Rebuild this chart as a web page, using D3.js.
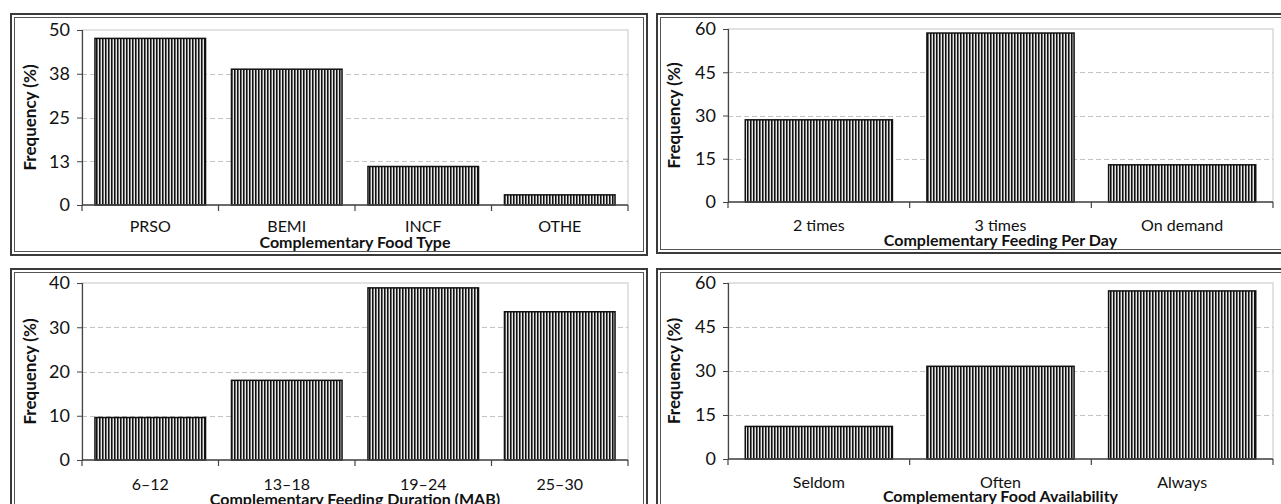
<!DOCTYPE html>
<html>
<head>
<meta charset="utf-8">
<script src="https://cdn.jsdelivr.net/npm/d3@7"></script>
<style>
html,body{margin:0;padding:0;background:#fff;}
svg{display:block;}
text{font-family:Lato,"Open Sans",sans-serif;fill:#111;}
</style>
</head>
<body>
<svg id="chart" width="1281" height="504"></svg>
<script>
// ---- data ----
const foodTypeCats = ["PRSO", "BEMI", "INCF", "OTHE"];
const foodTypeVals = [47.6, 38.8, 11.0, 2.9];
const foodTypeTicks = [0, 12.5, 25, 37.5, 50];
const foodTypeTickLabels = ["0", "13", "25", "38", "50"];
const foodTypeTitle = "Complementary Food Type";

const perDayCats = ["2 times", "3 times", "On demand"];
const perDayVals = [28.5, 58.6, 12.9];
const perDayTicks = [0, 15, 30, 45, 60];
const perDayTickLabels = ["0", "15", "30", "45", "60"];
const perDayTitle = "Complementary Feeding Per Day";

const durationCats = ["6–12", "13–18", "19–24", "25–30"];
const durationVals = [9.6, 18.0, 38.9, 33.5];
const durationTicks = [0, 10, 20, 30, 40];
const durationTickLabels = ["0", "10", "20", "30", "40"];
const durationTitle = "Complementary Feeding Duration (MAB)";

const availCats = ["Seldom", "Often", "Always"];
const availVals = [11.1, 31.6, 57.3];
const availTicks = [0, 15, 30, 45, 60];
const availTickLabels = ["0", "15", "30", "45", "60"];
const availTitle = "Complementary Food Availability";

const yAxisTitle = "Frequency (%)";

// ---- layout ----
const svg = d3.select("#chart");
const defs = svg.append("defs");
const pat = defs.append("pattern").attr("id", "stripes")
  .attr("patternUnits", "userSpaceOnUse").attr("width", 3).attr("height", 10);
pat.append("rect").attr("x", 0).attr("y", 0).attr("width", 3).attr("height", 10).attr("fill", "#e6e6e6");
pat.append("rect").attr("x", 0).attr("y", 0).attr("width", 1).attr("height", 10).attr("fill", "#111");
pat.append("rect").attr("x", 1).attr("y", 0).attr("width", 1).attr("height", 10).attr("fill", "#6e6e6e");

const panels = [
  {cats: foodTypeCats, vals: foodTypeVals, ticks: foodTypeTicks, tickLabels: foodTypeTickLabels, title: foodTypeTitle,
   frame: [10, 13, 648, 256], plot: {l: 82, r: 628, t: 30, b: 205}, labY: 232, titY: 248, yTitX: 30},
  {cats: perDayCats, vals: perDayVals, ticks: perDayTicks, tickLabels: perDayTickLabels, title: perDayTitle,
   frame: [656, 13, 1292, 254], plot: {l: 728, r: 1273, t: 29, b: 202}, labY: 231, titY: 246, yTitX: 674},
  {cats: durationCats, vals: durationVals, ticks: durationTicks, tickLabels: durationTickLabels, title: durationTitle,
   frame: [10, 268, 648, 515], plot: {l: 82, r: 628, t: 283, b: 460}, labY: 490, titY: 505, yTitX: 30},
  {cats: availCats, vals: availVals, ticks: availTicks, tickLabels: availTickLabels, title: availTitle,
   frame: [656, 268, 1292, 515], plot: {l: 728, r: 1273, t: 283, b: 459}, labY: 488, titY: 502, yTitX: 674}
];

panels.forEach(p => {
  const g = svg.append("g");
  const [fx0, fy0, fx1, fy1] = p.frame;
  // double frame
  g.append("rect").attr("x", fx0 + 1).attr("y", fy0 + 1).attr("width", fx1 - fx0 - 2).attr("height", fy1 - fy0 - 2)
    .attr("fill", "none").attr("stroke", "#3a3a3a").attr("stroke-width", 2);
  g.append("rect").attr("x", fx0 + 4.5).attr("y", fy0 + 4.5).attr("width", fx1 - fx0 - 9).attr("height", fy1 - fy0 - 9)
    .attr("fill", "none").attr("stroke", "#555").attr("stroke-width", 1);

  const {l, r, t, b} = p.plot;
  const x = d3.scaleBand().domain(p.cats).range([l, r]).paddingInner(0.19).paddingOuter(0.095);
  const yMax = p.ticks[p.ticks.length - 1];
  const y = d3.scaleLinear().domain([0, yMax]).range([b, t]);

  // plot area border
  g.append("rect").attr("x", l).attr("y", y(yMax)).attr("width", r - l).attr("height", b - y(yMax))
    .attr("fill", "none").attr("stroke", "#d9d9d9").attr("stroke-width", 1.5);

  // gridlines
  g.selectAll(".grid").data(p.ticks.filter(v => v > 0 && v < yMax)).enter().append("line")
    .attr("x1", l).attr("x2", r).attr("y1", d => Math.round(y(d)) + 0.5).attr("y2", d => Math.round(y(d)) + 0.5)
    .attr("stroke", "#c4c4c4").attr("stroke-width", 1).attr("stroke-dasharray", "5,3");

  // bars
  g.selectAll(".bar").data(p.cats).enter().append("rect")
    .attr("x", d => x(d)).attr("width", x.bandwidth())
    .attr("y", (d, i) => y(p.vals[i])).attr("height", (d, i) => y(0) - y(p.vals[i]))
    .attr("fill", "url(#stripes)").attr("stroke", "#111").attr("stroke-width", 1.5);

  // y axis
  const yAxis = d3.axisLeft(y).tickValues(p.ticks).tickFormat((d, i) => p.tickLabels[i]).tickSize(5).tickPadding(7);
  const ya = g.append("g").attr("transform", `translate(${l},0)`).call(yAxis);
  ya.select(".domain").attr("stroke", "#444").attr("stroke-width", 1.2);
  ya.selectAll(".tick line").attr("stroke", "#444");
  ya.selectAll(".tick text").style("font-family", "Lato, sans-serif").style("font-size", "18px").attr("fill", "#111");

  // x axis: line + ticks at band boundaries
  g.append("line").attr("x1", l).attr("x2", r).attr("y1", b).attr("y2", b).attr("stroke", "#444").attr("stroke-width", 1.5);
  const bounds = p.cats.map(c => x(c) - x.step() * x.paddingInner() / 2).concat([r]);
  g.selectAll(".xt").data(bounds).enter().append("line")
    .attr("x1", d => d).attr("x2", d => d).attr("y1", b).attr("y2", b + 6).attr("stroke", "#444").attr("stroke-width", 1.2);
  g.selectAll(".xl").data(p.cats).enter().append("text")
    .attr("x", d => x(d) + x.bandwidth() / 2).attr("y", p.labY)
    .attr("text-anchor", "middle").style("font-size", "16px").text(d => d);

  // titles
  g.append("text").attr("x", (l + r) / 2).attr("y", p.titY).attr("text-anchor", "middle")
    .style("font-size", "16px").style("font-weight", "bold").text(p.title);
  g.append("text").attr("transform", `translate(${p.yTitX + 6},${(t + b) / 2}) rotate(-90)`)
    .attr("text-anchor", "middle").style("font-size", "17px").style("font-weight", "bold").text(yAxisTitle);
});
</script>
</body>
</html>
